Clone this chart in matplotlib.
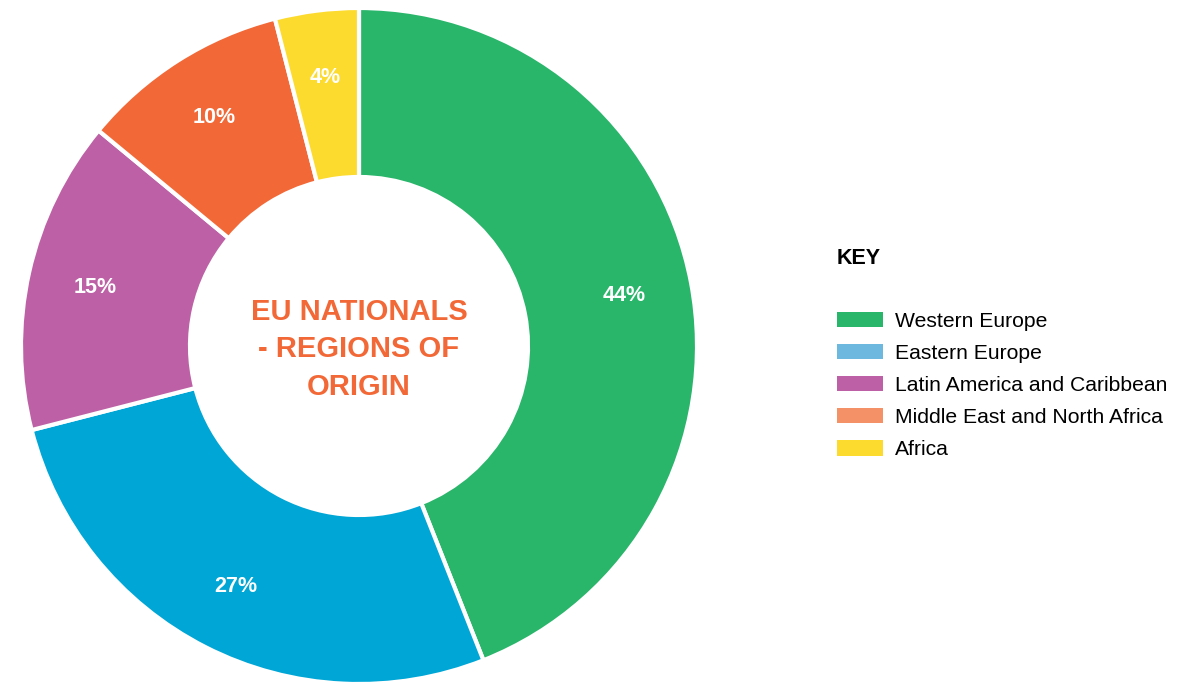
import matplotlib
matplotlib.use('Agg')
import matplotlib.pyplot as plt
from matplotlib.patches import Patch

plt.rcParams['font.family'] = ['Liberation Sans', 'DejaVu Sans']

# data
regions = ['Western Europe', 'Eastern Europe', 'Latin America and Caribbean',
           'Middle East and North Africa', 'Africa']
shares = [44, 27, 15, 10, 4]
slice_colors = ['#29B56A', '#00A6D6', '#BD60A5', '#F26836', '#FDDA2E']
key_colors = ['#29B56A', '#6CB8DE', '#BD60A5', '#F59166', '#FDDA2E']
title = 'EU NATIONALS\n- REGIONS OF\nORIGIN'

W, H = 1189, 683
fig = plt.figure(figsize=(W / 100, H / 100), dpi=100)

# donut axes: centre (359, 346) px, radius 338 px
cx, cy, R = 359, 346, 338
ax = fig.add_axes([(cx - R) / W, (H - cy - R) / H, 2 * R / W, 2 * R / H])
wedges, texts, autotexts = ax.pie(
    shares, colors=slice_colors, startangle=90, counterclock=False,
    radius=1, autopct='%d%%', pctdistance=0.8,
    wedgeprops=dict(width=0.5, edgecolor='white', linewidth=3),
    textprops=dict(color='white', fontsize=15.5, fontweight='bold'))
ax.set_xlim(-1, 1)
ax.set_ylim(-1, 1)
ax.set_aspect('equal')
ax.axis('off')

ax.text(0, -0.01, title, ha='center', va='center', color='#F26836',
        fontsize=21, fontweight='bold', linespacing=1.42)

# key
fig.text(837 / W, 1 - 258 / H, 'KEY', fontsize=15.5, fontweight='bold',
         va='center', ha='left')
handles = [Patch(facecolor=c, edgecolor='none') for c in key_colors]
fig.legend(handles, regions, loc='upper left',
           bbox_to_anchor=(837 / W, 1 - 312 / H), frameon=False,
           fontsize=15.2, handlelength=2.2, handleheight=0.72,
           handletextpad=0.53, labelspacing=0.62, borderaxespad=0,
           borderpad=0)

fig.savefig('out.png', dpi=100)
